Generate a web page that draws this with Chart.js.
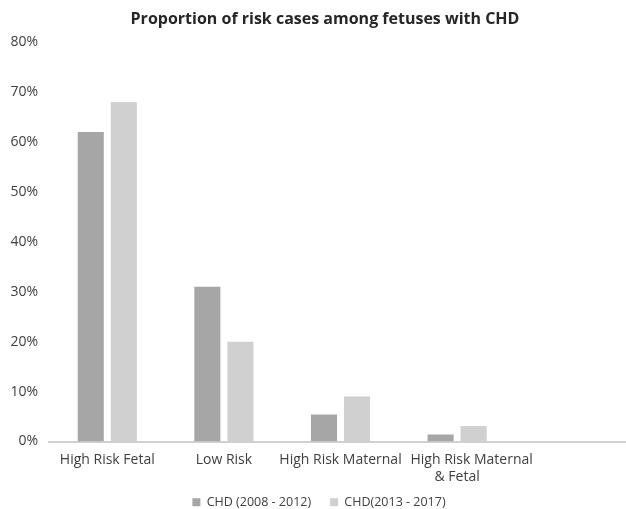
<!DOCTYPE html>
<html>
<head>
<meta charset="utf-8">
<script src="https://cdn.jsdelivr.net/npm/chart.js@4/dist/chart.umd.min.js"></script>
<style>
  html, body { margin: 0; padding: 0; background: #ffffff; overflow: hidden; }
  #wrap { width: 626px; height: 509px; overflow: hidden; }
</style>
</head>
<body>
<div id="wrap"><canvas id="chart" width="632" height="509"></canvas></div>
<script>
// Risk categories (the last slot is an empty category in the source table).
// The wrapped label's first line is indented so it sits right of the line below.
const categories = [
  'High Risk Fetal',
  'Low Risk',
  'High Risk Maternal',
  ['\u00a0\u00a0\u00a0\u00a0\u00a0\u00a0\u00a0\u00a0High Risk Maternal', '& Fetal'],
  ''
];

// Share of cases per period, in percent
const period1Label = 'CHD (2008 - 2012)';
const period1Values = [62, 31, 5.4, 1.4, null];
const period2Label = 'CHD(2013 - 2017)';
const period2Values = [68, 20, 9, 3.1, null];

// Value axis ticks
const yMin = 0;
const yMax = 80;
const yStep = 10;

const FONT = "'Open Sans', sans-serif";
const TEXT = '#404040';

// Nudge title and legend after layout
const shiftBlocks = {
  id: 'shiftBlocks',
  afterLayout(chart) {
    const t = chart.titleBlock;
    if (t) { t.left += 9; t.right += 9; }
    const l = chart.legend;
    if (l) { l.left += 3; l.right += 3; l.top -= 13; l.bottom -= 13; }
  }
};

new Chart(document.getElementById('chart'), {
  type: 'bar',
  data: {
    labels: categories,
    datasets: [
      {
        label: period1Label,
        data: period1Values,
        backgroundColor: '#a6a6a6',
        categoryPercentage: 0.567,
        barPercentage: 0.788
      },
      {
        label: period2Label,
        data: period2Values,
        backgroundColor: '#d0d0d0',
        categoryPercentage: 0.567,
        barPercentage: 0.788
      }
    ]
  },
  options: {
    responsive: false,
    devicePixelRatio: 1,
    animation: false,
    layout: { padding: { top: 0, right: 0, bottom: -22.5, left: 0 } },
    plugins: {
      title: {
        display: true,
        text: 'Proportion of risk cases among fetuses with CHD',
        color: '#262626',
        font: { family: FONT, size: 16, weight: 'bold' },
        padding: { top: 10, bottom: 13 }
      },
      legend: {
        position: 'bottom',
        labels: {
          color: TEXT,
          font: { family: FONT, size: 12.5 },
          boxWidth: 8,
          boxHeight: 8,
          padding: 19
        }
      },
      tooltip: { enabled: false }
    },
    scales: {
      x: {
        grid: { display: false, drawTicks: false },
        border: { display: true, color: '#d0d0d0', width: 2 },
        ticks: {
          color: TEXT,
          font: { family: FONT, size: 14 },
          padding: 10,
          maxRotation: 0,
          autoSkip: false
        },
        afterFit(scale) { scale.height = 48.5; }
      },
      y: {
        min: yMin,
        max: yMax,
        grid: { display: false, drawTicks: false },
        border: { display: false },
        ticks: {
          stepSize: yStep,
          color: TEXT,
          font: { family: FONT, size: 14 },
          padding: 11,
          callback: v => v + '%'
        },
        afterFit(scale) { scale.width = 49; }
      }
    }
  },
  plugins: [shiftBlocks]
});
</script>
</body>
</html>
